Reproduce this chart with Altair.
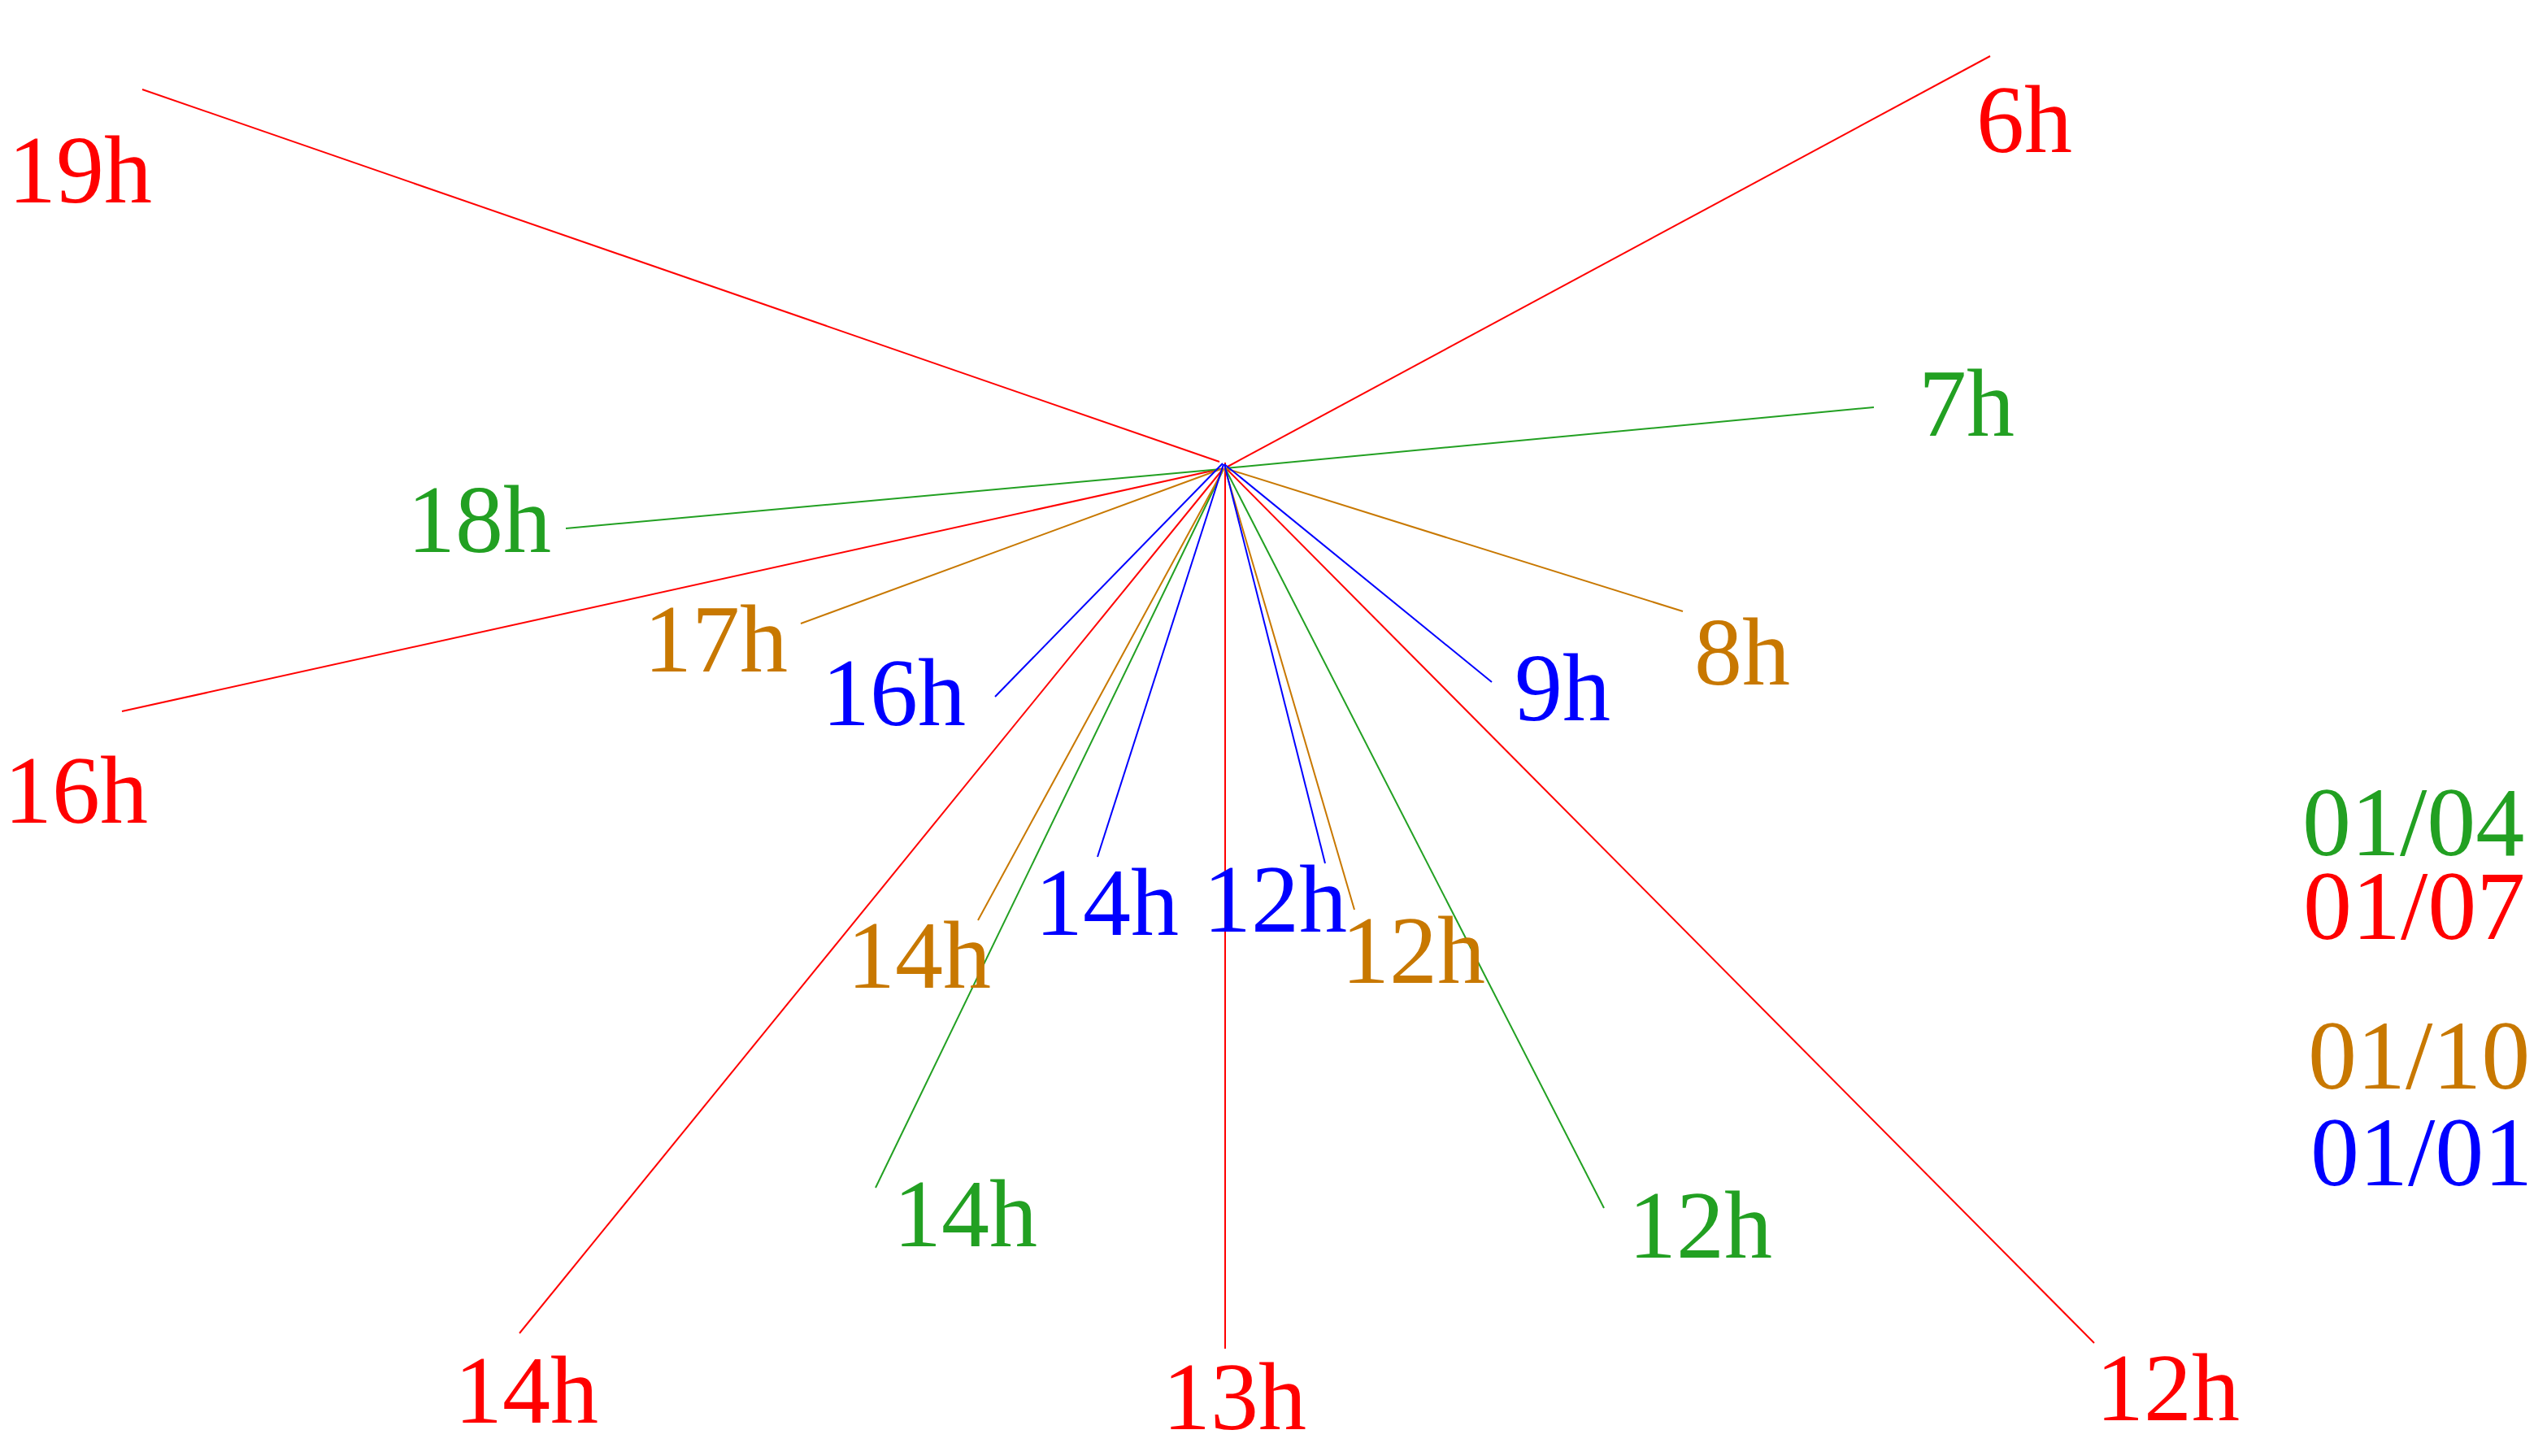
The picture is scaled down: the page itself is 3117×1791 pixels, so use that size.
import altair as alt
import pandas as pd

# Shadow-direction diagram: one line per hour from the common foot point,
# coloured by date. Coordinates are in the picture's own pixel space.
dates = ["01/07"] * 6 + ["01/04"] * 4 + ["01/10"] * 4 + ["01/01"] * 4
hours = ["19h", "6h", "16h", "14h", "13h", "12h",
         "7h", "18h", "14h", "12h",
         "8h", "17h", "14h", "12h",
         "9h", "16h", "14h", "12h"]

# start (foot) points
start_x = [1500, 1510, 1505, 1505, 1507, 1507,
           1507, 1502, 1505, 1507,
           1507, 1502, 1505, 1507,
           1506, 1504, 1505, 1506]
start_y = [568, 574, 576, 576, 569, 575,
           576, 577, 577, 576,
           576, 577, 577, 577,
           571, 570, 571, 571]

# end points of each line
end_x = [175, 2448, 150, 639, 1507, 2576,
         2305, 696, 1077, 1973,
         2070, 985, 1203, 1666,
         1835, 1224, 1350, 1630]
end_y = [110, 69, 875, 1640, 1659, 1652,
         501, 650, 1461, 1486,
         752, 767, 1132, 1119,
         839, 857, 1054, 1062]

# label positions (left edge, baseline)
label_x = [10, 2431, 5, 559, 1430, 2578,
           2360, 501, 1099, 2003,
           2084, 792, 1042, 1650,
           1863, 1011, 1273, 1480]
label_y = [249, 187, 1012, 1750, 1758, 1747,
           536, 679, 1533, 1547,
           842, 826, 1215, 1209,
           886, 892, 1150, 1146]

# date key on the right
key_dates = ["01/04", "01/07", "01/10", "01/01"]
key_x = [2832, 2833, 2839, 2842]
key_y = [1052, 1155, 1339, 1458]

color_domain = ["01/07", "01/04", "01/10", "01/01"]
color_range = ["#ff0000", "#22a022", "#c87800", "#0000ff"]

lines = pd.DataFrame({"date": dates, "hour": hours,
                      "x0": start_x, "y0": start_y, "x1": end_x, "y1": end_y})
labels = pd.DataFrame({"date": dates, "hour": hours, "lx": label_x, "ly": label_y})
key = pd.DataFrame({"date": key_dates, "kx": key_x, "ky": key_y})

W, H = 3101, 1772
xs = alt.Scale(domain=[8, 8 + W], nice=False, zero=False)
ys = alt.Scale(domain=[8, 8 + H], nice=False, zero=False, reverse=True)
cs = alt.Scale(domain=color_domain, range=color_range)

rules = alt.Chart(lines).mark_rule(strokeWidth=2).encode(
    x=alt.X("x0:Q", scale=xs, axis=None),
    y=alt.Y("y0:Q", scale=ys, axis=None),
    x2="x1:Q",
    y2="y1:Q",
    color=alt.Color("date:N", scale=cs, legend=None),
)

text = alt.Chart(labels).mark_text(
    font="Liberation Serif", fontSize=118, align="left", baseline="alphabetic"
).encode(
    x=alt.X("lx:Q", scale=xs, axis=None),
    y=alt.Y("ly:Q", scale=ys, axis=None),
    text="hour:N",
    color=alt.Color("date:N", scale=cs, legend=None),
)

keytext = alt.Chart(key).mark_text(
    font="Liberation Serif", fontSize=120, align="left", baseline="alphabetic"
).encode(
    x=alt.X("kx:Q", scale=xs, axis=None),
    y=alt.Y("ky:Q", scale=ys, axis=None),
    text="date:N",
    color=alt.Color("date:N", scale=cs, legend=None),
)

chart = alt.layer(rules, text, keytext).properties(
    width=W, height=H, padding=0,
    autosize=alt.AutoSizeParams(type="none"),
).configure_view(strokeWidth=0)

chart.save("out.html", embed_options={"renderer": "svg", "actions": False})
